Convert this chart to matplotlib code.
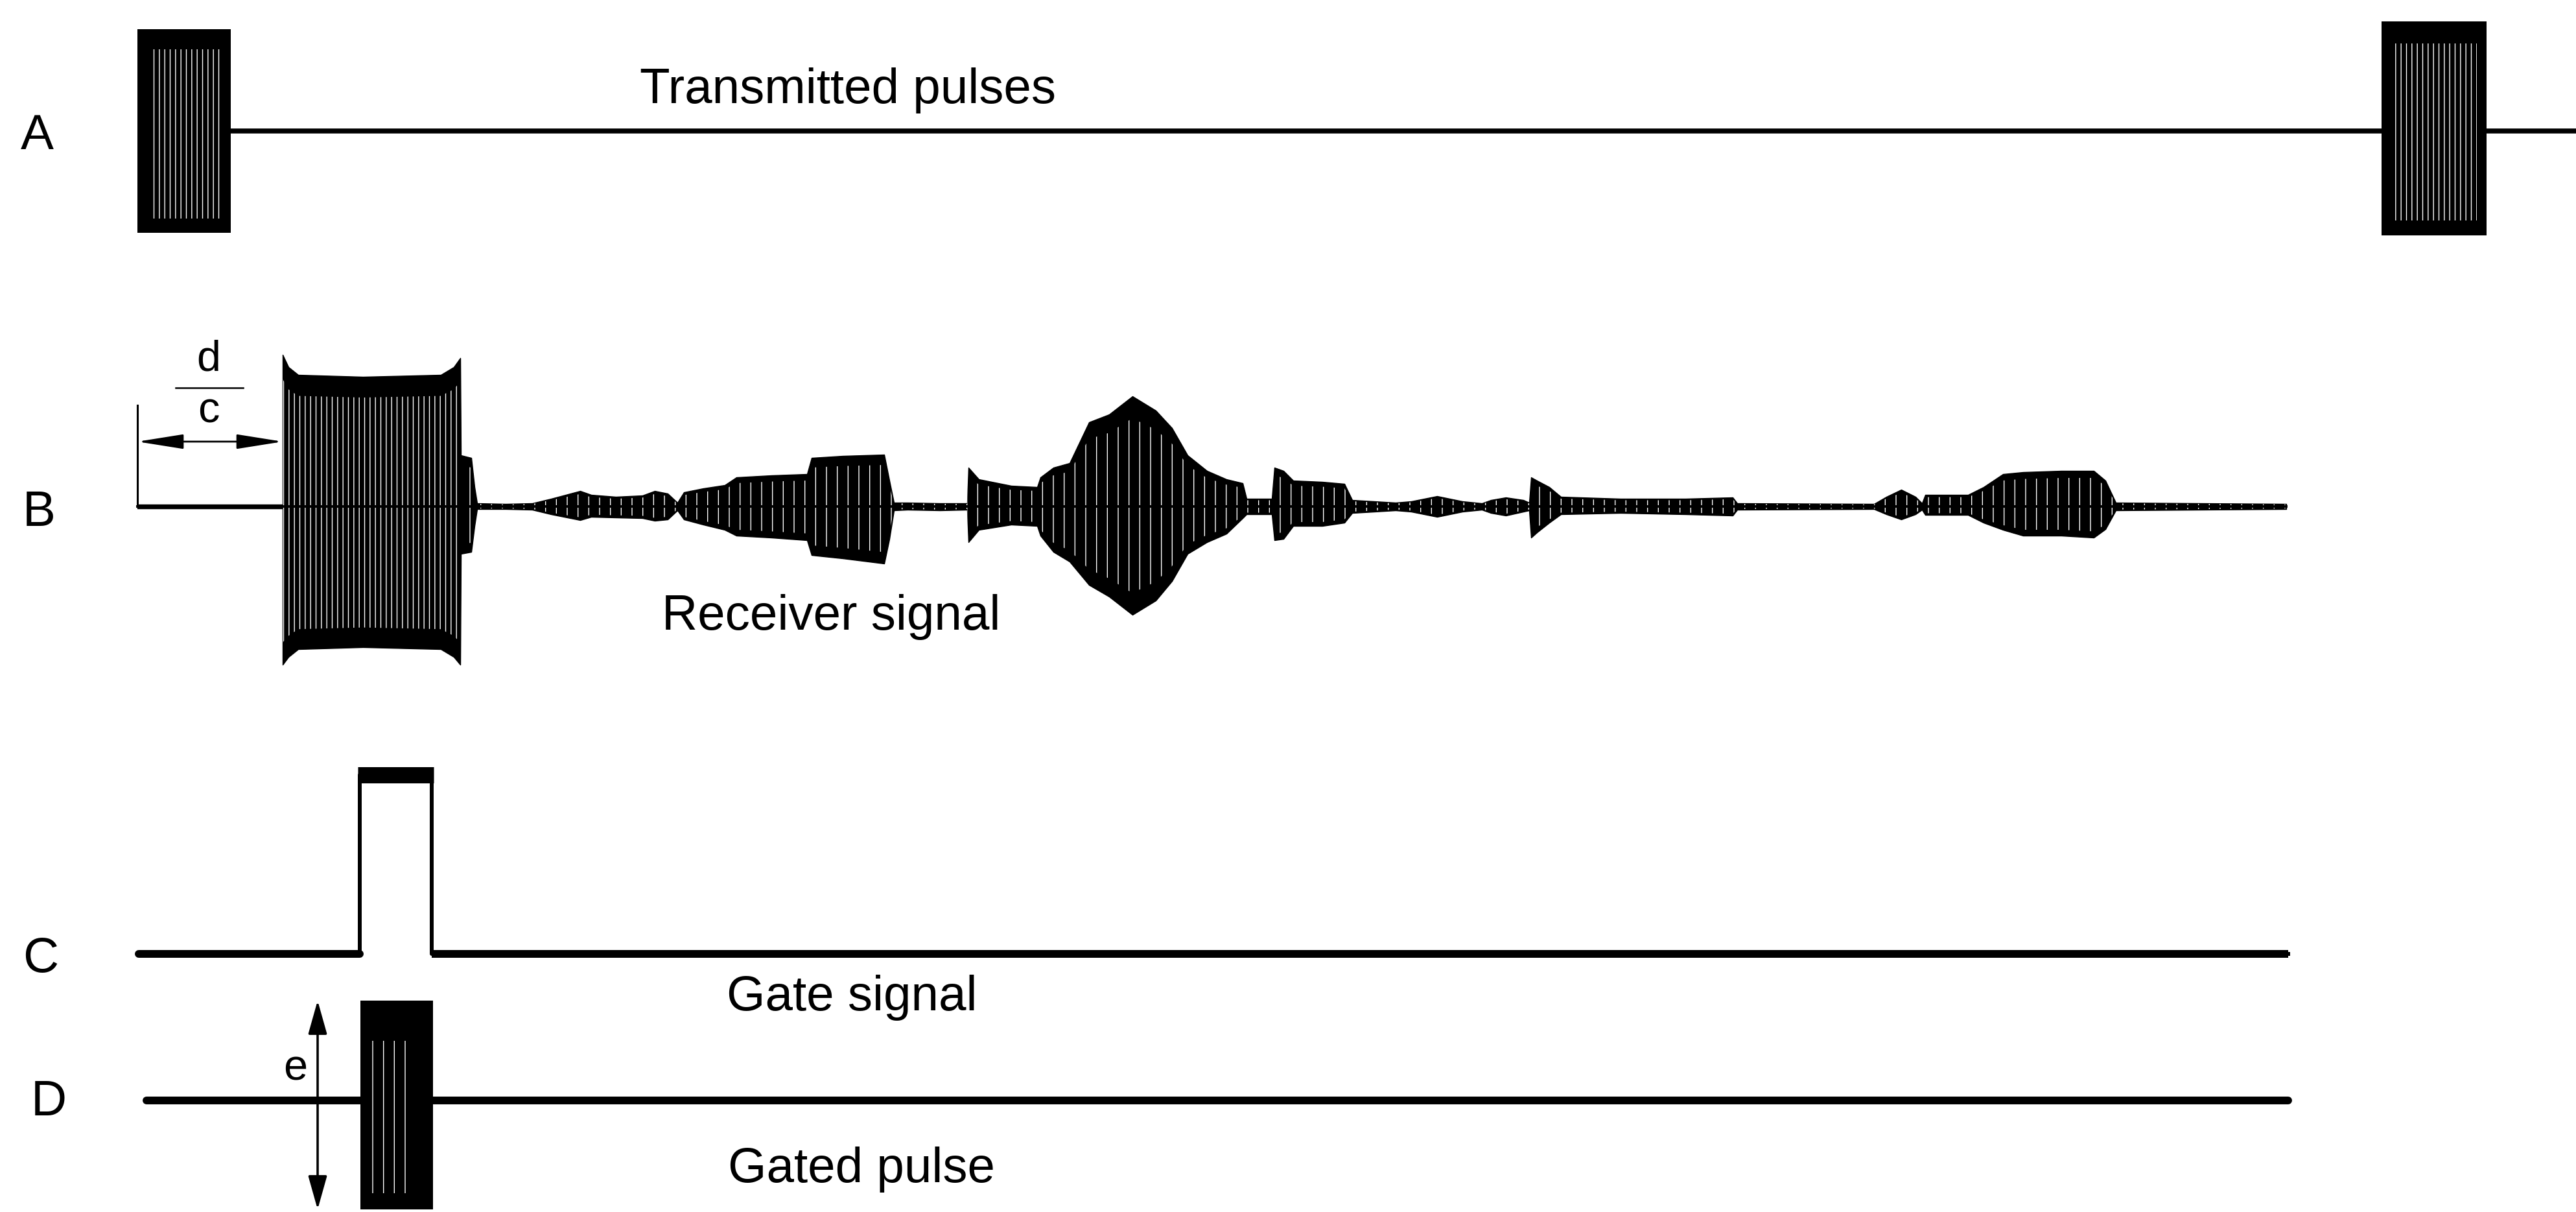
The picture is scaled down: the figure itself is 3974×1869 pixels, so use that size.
import numpy as np
import matplotlib.pyplot as plt

plt.rcParams['font.family'] = ['Liberation Sans', 'DejaVu Sans']
plt.rcParams['hatch.color'] = 'white'
plt.rcParams['hatch.linewidth'] = 1.0

# time runs from the start of the first transmitted pulse; amplitudes are in the same units

# A: transmitted pulses
tx_start = [0.0, 346.2]
tx_end = [14.4, 362.4]
tx_up = [15.7, 16.9]
tx_down = [15.7, 16.1]

# B: receiver signal envelope (excursion above / below the trace)
rx_t = [0.0, 22.4, 22.4, 23.3, 24.8, 34.8, 46.8, 48.8, 49.8,
        49.9, 51.5, 52.0, 52.4, 56.8, 60.9, 63.8, 66.8, 68.3, 70.0,
        73.8, 77.9, 79.8, 81.8, 83.3, 84.3, 87.3, 90.6, 92.4, 97.8,
        103.3, 104.0, 108.8, 115.2, 116.0, 116.7, 118.8, 123.8, 128.0,
        128.2, 129.8, 134.8, 138.8, 139.3, 141.3, 143.8, 146.8, 149.9,
        153.5, 157.1, 159.6, 162.0, 165.0, 168.0, 170.5, 171.1, 175.0,
        175.4, 176.8, 178.3, 182.8, 186.2, 187.4, 190.8, 194.1, 196.5,
        200.5, 204.4, 207.4, 208.8, 211.1, 213.8, 214.7, 215.0, 215.9,
        217.8, 219.6, 228.8, 238.8, 246.1, 246.8, 267.9, 269.8, 272.1,
        274.3, 275.3, 275.8, 282.4, 284.8, 287.8, 290.9, 296.8, 301.8,
        303.6, 305.2, 331.5]
rx_up = [0.3, 0.3, 23.4, 21.5, 20.3, 20.0, 20.3, 21.5, 22.9,
         7.9, 7.5, 3.0, 0.5, 0.4, 0.5, 1.2, 2.0, 2.4, 1.8,
         1.5, 1.7, 2.4, 2.0, 0.6, 2.2, 2.8, 3.3, 4.5, 4.8,
         5.0, 7.5, 7.8, 8.0, 4.0, 0.6, 0.6, 0.5, 0.5,
         6.0, 4.2, 3.2, 3.0, 4.5, 6.0, 6.7, 13.0, 14.2,
         17.0, 14.8, 12.1, 7.9, 5.5, 4.2, 3.6, 1.2, 1.2,
         6.0, 5.5, 4.0, 3.8, 3.5, 1.0, 0.8, 0.6, 0.8,
         1.6, 0.8, 0.5, 1.0, 1.4, 1.0, 0.6, 4.5, 4.0,
         3.0, 1.5, 1.2, 1.2, 1.4, 0.5, 0.4, 1.5, 2.6,
         1.5, 0.5, 1.8, 1.8, 3.0, 5.0, 5.3, 5.5, 5.5,
         4.0, 0.6, 0.4]
rx_down = [0.3, 0.3, 24.4, 23.2, 22.0, 21.7, 22.0, 23.2, 24.4,
           7.3, 7.0, 3.0, 0.4, 0.4, 0.5, 1.2, 1.8, 2.1, 1.6,
           1.7, 1.8, 2.2, 2.0, 0.6, 2.0, 2.8, 3.6, 4.5, 4.8,
           5.2, 7.5, 8.0, 8.8, 5.0, 0.6, 0.5, 0.6, 0.5,
           5.5, 3.6, 2.8, 3.0, 4.5, 7.0, 8.5, 12.1, 13.9,
           16.7, 14.5, 11.5, 7.3, 5.5, 4.2, 1.8, 1.2, 1.2,
           5.2, 5.0, 3.0, 3.0, 2.5, 1.0, 0.8, 0.6, 0.8,
           1.6, 0.8, 0.5, 1.0, 1.4, 0.8, 0.6, 4.8, 4.0,
           2.5, 1.2, 1.0, 1.2, 1.4, 0.5, 0.4, 1.2, 2.0,
           1.2, 0.5, 1.3, 1.3, 2.5, 3.6, 4.5, 4.5, 4.8,
           3.5, 0.6, 0.4]

# C: gate signal
gate_open = 34.3
gate_close = 45.4
gate_level = 27.6
trace_end = 331.8

# D: gated pulse
gated_start = 34.4
gated_end = 45.6
gated_up = 15.4
gated_down = 16.8

ROW_A, ROW_B, ROW_C, ROW_D = 166.7, 108.8, 39.8, 17.2
X_MIN, X_MAX = -21.2, 376.2


def stripes(ax, t, lo, hi, hatch='||', z=3):
    ax.fill_between(t, lo, hi, facecolor='none', edgecolor='white',
                    hatch=hatch, linewidth=0, zorder=z)


fig = plt.figure(figsize=(39.74, 18.69), dpi=100)
ax = fig.add_axes([0, 0, 1, 1])
ax.set_xlim(X_MIN, X_MAX)
ax.set_ylim(0, 186.9)
ax.axis('off')

# --- A: transmitted pulses
ax.plot([tx_end[0], X_MAX], [ROW_A, ROW_A], color='black', lw=5.5, zorder=1)
for s, e, u, d in zip(tx_start, tx_end, tx_up, tx_down):
    ax.fill_between([s, e], ROW_A - d, ROW_A + u, color='black', lw=0, zorder=2)
    stripes(ax, [s + 2.0, e - 1.5], ROW_A - d * 0.86, ROW_A + u * 0.80)

# --- B: receiver signal
rx_t = np.array(rx_t)
up = np.array(rx_up)
dn = np.array(rx_down)
ax.fill_between(rx_t, ROW_B - dn, ROW_B + up, facecolor='black',
                edgecolor='black', lw=1.0, zorder=2)
# transmit breakthrough gets the denser ringing
big = slice(2, 9)
stripes(ax, rx_t[big], ROW_B - dn[big] * 0.86, ROW_B + up[big] * 0.84)
stripes(ax, rx_t[9:], ROW_B - dn[9:] * 0.8, ROW_B + up[9:] * 0.8, hatch='|')
ax.plot(rx_t, np.full(len(rx_t), ROW_B), color='black', lw=2.8, zorder=4)

# d/c delay marker
echo0 = rx_t[1]
ax.plot([0, 0], [ROW_B, ROW_B + 15.6], color='black', lw=2.2, zorder=4)
ax.annotate('', xy=(0, ROW_B + 10.0), xytext=(echo0, ROW_B + 10.0),
            arrowprops=dict(arrowstyle='<|-|>,head_length=2.2,head_width=0.35',
                            color='black', lw=2.0, shrinkA=0, shrinkB=0,
                            mutation_scale=20))
ax.plot([5.9, 16.3], [ROW_B + 18.3, ROW_B + 18.3], color='black', lw=1.8)
ax.text(11.0, ROW_B + 21.0, 'd', fontsize=48, ha='center', va='baseline')
ax.text(11.0, ROW_B + 13.0, 'c', fontsize=48, ha='center', va='baseline')

# --- C: gate signal
ax.plot([0.2, gate_open, gate_open, gate_close, gate_close, trace_end],
        [ROW_C, ROW_C, ROW_C + gate_level, ROW_C + gate_level, ROW_C, ROW_C],
        color='black', lw=4.3, zorder=2)
ax.plot([0.2, gate_open], [ROW_C, ROW_C], color='black', lw=8.6,
        solid_capstyle='round', zorder=2)
ax.plot([gate_close, trace_end], [ROW_C, ROW_C], color='black', lw=8.6,
        solid_capstyle='butt', zorder=2)
ax.plot([gate_open - 0.3, gate_close + 0.3], [ROW_C + gate_level] * 2,
        color='black', lw=18, solid_capstyle='butt', zorder=2)

# --- D: gated pulse
ax.plot([1.4, trace_end], [ROW_D, ROW_D], color='black', lw=8.6,
        solid_capstyle='round', zorder=1)
ax.fill_between([gated_start, gated_end], ROW_D - gated_down, ROW_D + gated_up,
                color='black', lw=0, zorder=2)
stripes(ax, [gated_start + 0.6, gated_end - 3.0], ROW_D - gated_down * 0.85,
        ROW_D + gated_up * 0.6, hatch='|')

ax.annotate('', xy=(27.8, ROW_D + gated_up), xytext=(27.8, ROW_D - gated_down),
            arrowprops=dict(arrowstyle='<|-|>,head_length=1.6,head_width=0.45',
                            color='black', lw=2.6, shrinkA=0, shrinkB=0,
                            mutation_scale=20))
ax.text(24.4, ROW_D + 3.2, 'e', fontsize=48, ha='center', va='baseline')

# --- row letters and captions
lab = dict(fontsize=55, va='baseline', ha='left', color='black')
ax.text(-18.0, ROW_A - 2.8, 'A', **lab)
ax.text(-17.7, ROW_B - 3.0, 'B', **lab)
ax.text(-17.7, ROW_C - 2.8, 'C', **lab)
ax.text(-16.4, ROW_D - 2.3, 'D', **lab)

ax.text(77.5, 171.0, 'Transmitted pulses', **lab)
ax.text(80.9, 89.8, 'Receiver signal', **lab)
ax.text(90.9, 31.1, 'Gate signal', **lab)
ax.text(91.1, 4.6, 'Gated pulse', **lab)

fig.savefig('out.png', dpi=100, facecolor='white')
